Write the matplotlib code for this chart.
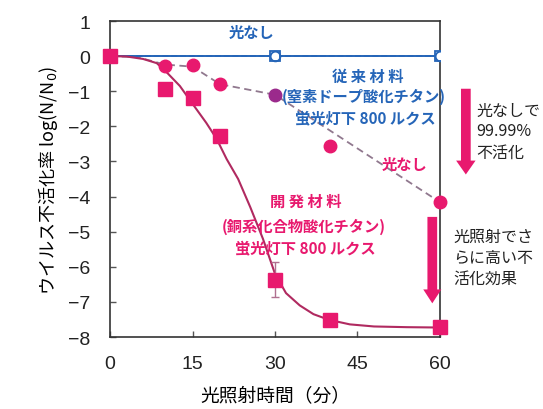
import matplotlib
matplotlib.use("Agg")
import matplotlib.pyplot as plt

plt.rcParams['font.family'] = ['Noto Sans CJK JP', 'DejaVu Sans']

# --- data -------------------------------------------------------------
# conventional material, light / dark (no inactivation)
conv_t = [0, 30, 60]
conv_v = [0, 0, 0]

# developed material in the dark
dark_t = [10, 15, 20, 30, 40, 60]
dark_v = [-0.28, -0.26, -0.78, -1.11, -2.56, -4.16]
dark_line_t = [0, 5, 10, 15, 20, 30, 60]
dark_line_v = [0, -0.03, -0.24, -0.3, -0.8, -1.1, -4.16]

# developed material under fluorescent light (800 lx)
light_t = [0, 10, 15, 20, 30, 40, 60]
light_v = [0, -0.94, -1.2, -2.28, -6.37, -7.51, -7.72]
light_err_t = [30]
light_err_v = [-6.37]
light_err = [0.5]
fit_t = [0, 3, 6, 8.5, 10.3, 12.7, 15.2, 17.5, 19.4, 21.2, 23.3, 25.5, 27.8, 30,
         32, 34.5, 37, 39.8, 43.6, 48, 54, 60]
fit_v = [0, -0.01, -0.08, -0.2, -0.46, -0.85, -1.4, -1.9, -2.36, -2.93, -3.5, -4.3,
         -5.2, -6.2, -6.75, -7.1, -7.35, -7.51, -7.64, -7.7, -7.72, -7.73]

x_ticks = [0, 15, 30, 45, 60]
y_ticks = [1, 0, -1, -2, -3, -4, -5, -6, -7, -8]

PINK = '#e8196e'
BLUE = '#2565b8'
FIT = '#b02a60'
DASH = '#90788e'

fig = plt.figure(figsize=(5.43, 4.10), dpi=100)
ax = fig.add_axes([0.2026, 0.1756, 0.6077, 0.7707])

# conventional material
ax.plot(conv_t, conv_v, color=BLUE, lw=1.4, zorder=3)
ax.plot(conv_t, conv_v, color=BLUE, lw=1.4, ls=(0, (3, 1.5)), zorder=3)
ax.plot(conv_t[1:], conv_v[1:], ls='none', marker='s', ms=7, mfc='white',
        mec=BLUE, mew=1.3, zorder=4)
ax.plot(conv_t[1:], conv_v[1:], ls='none', marker='o', ms=7, mfc='none',
        mec=BLUE, mew=1.3, zorder=4)

# developed material, dark
ax.plot(dark_line_t, dark_line_v, color=DASH, lw=1.3, ls=(0, (4, 2.5)), zorder=2)
dark_colors = [PINK, PINK, PINK, '#9b2a8c', PINK, PINK]
for t, v, c in zip(dark_t, dark_v, dark_colors):
    ax.plot(t, v, ls='none', marker='o', ms=9, mfc=c, mec=c, zorder=5,
            clip_on=False)

# developed material, light
ax.plot(fit_t, fit_v, color=FIT, lw=1.5, zorder=3)
ax.errorbar(light_err_t, light_err_v, yerr=light_err, fmt='none',
            ecolor='#b07090', elinewidth=1.0, capsize=3, zorder=4)
ax.plot(light_t, light_v, ls='none', marker='s', ms=9.5, mfc=PINK, mec=PINK,
        zorder=6, clip_on=False)

ax.set_xlim(0, 60)
ax.set_ylim(-8, 1)
ax.set_xticks(x_ticks)
ax.set_yticks(y_ticks)
ax.tick_params(direction='in', length=4, width=1, color='#555555')
ax.tick_params(axis='x', pad=13)
ax.tick_params(axis='y', pad=14)
for lab in ax.get_xticklabels() + ax.get_yticklabels():
    lab.set_fontfamily('Liberation Sans')
    lab.set_fontsize(14)
    lab.set_color('#222222')
for s in ax.spines.values():
    s.set_color('#333333')
    s.set_linewidth(1.2)

ax.set_xlabel('光照射時間（分）', fontsize=13.5, labelpad=9)
ax.set_ylabel('ウイルス不活化率 log(N/N$_0$)', fontsize=13, labelpad=6)

# annotations inside the plot
bold = dict(fontweight='bold', ha='center', va='center')
ax.text(25.8, 0.69, '光なし', color=BLUE, fontsize=11, **bold)
ax.text(46.8, -0.57, '従 来 材 料', color=BLUE, fontsize=11, **bold)
ax.text(46.2, -1.14, '(窒素ドープ酸化チタン)', color=BLUE, fontsize=11, **bold)
ax.text(46.4, -1.74, '蛍光灯下 800 ルクス', color=BLUE, fontsize=11, **bold)
ax.text(53.6, -3.08, '光なし', color=PINK, fontsize=11, **bold)
ax.text(35.6, -4.13, '開 発 材 料', color=PINK, fontsize=11, **bold)
ax.text(35.3, -4.84, '(銅系化合物酸化チタン)', color=PINK, fontsize=11, **bold)
ax.text(35.6, -5.44, '蛍光灯下 800 ルクス', color=PINK, fontsize=11, **bold)

# arrows
ax.annotate('', xy=(64.7, -3.45), xytext=(64.7, -0.85), annotation_clip=False,
            arrowprops=dict(arrowstyle='simple,head_width=1.4,head_length=1.0,tail_width=0.7',
                            color=PINK, lw=0))
ax.annotate('', xy=(58.6, -7.12), xytext=(58.6, -4.5), annotation_clip=False,
            arrowprops=dict(arrowstyle='simple,head_width=1.3,head_length=1.0,tail_width=0.7',
                            color=PINK, lw=0))

# side notes
fig.text(476 / 543, 1 - 132 / 410, '光なしで\n99.99%\n不活化', fontsize=11.5,
         ha='left', va='center', linespacing=1.3, color='#222222')
fig.text(453 / 543, 1 - 258 / 410, '光照射でさ\nらに高い不\n活化効果', fontsize=11.5,
         ha='left', va='center', linespacing=1.3, color='#222222')

fig.savefig('out.png', dpi=100)
